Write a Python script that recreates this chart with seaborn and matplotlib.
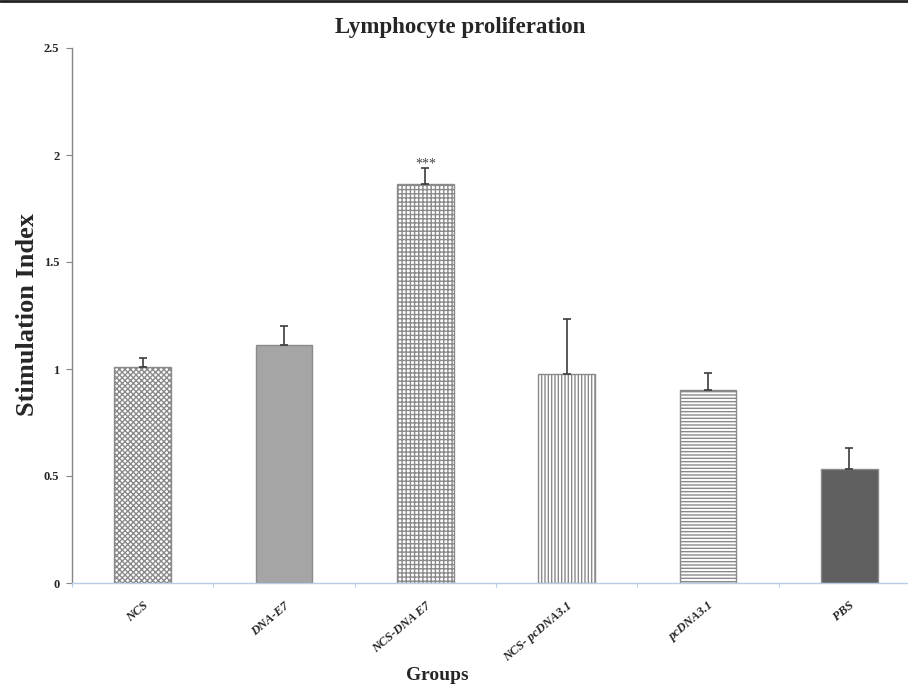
import numpy as np
import pandas as pd
import seaborn as sns
import matplotlib
matplotlib.use("Agg")
import matplotlib.pyplot as plt
from matplotlib.lines import Line2D
from matplotlib.ticker import FuncFormatter, FixedLocator

groups = ["NCS", "DNA-E7", "NCS-DNA E7", "NCS- pcDNA3.1", "pcDNA3.1", "PBS"]
means = [1.01, 1.11, 1.865, 0.978, 0.90, 0.533]
errors = [0.04, 0.09, 0.075, 0.255, 0.08, 0.10]
yticks = [0, 0.5, 1, 1.5, 2, 2.5]

face_colors = ["white", "#a5a5a5", "white", "white", "white", "#5f5f5f"]
hatches = ["xxxxxx", "", "++++", "|||||", "-----", ""]

sns.set_style("white")
plt.rcParams["font.family"] = ["Liberation Serif", "DejaVu Serif"]
plt.rcParams["hatch.linewidth"] = 1.0

df = pd.DataFrame({"group": groups, "si": means})

fig = plt.figure(figsize=(9.08, 6.85), dpi=100)
ax = fig.add_axes([72 / 908, 102 / 685, 848 / 908, 535 / 685])

sns.barplot(data=df, x="group", y="si", hue="group", palette=face_colors,
            legend=False, width=0.4, errorbar=None, ax=ax,
            edgecolor="#8a8a8a", linewidth=1.0)

for bar, h in zip(ax.patches, hatches):
    bar.set_hatch(h)
    bar.set_edgecolor("#8a8a8a")

xpos = np.arange(len(groups))
ax.errorbar(xpos, means, yerr=[np.zeros(len(errors)), errors], fmt="none",
            ecolor="#3c3c3c", elinewidth=1.2, capsize=3, capthick=1.2)

# significance mark over the NCS-DNA E7 bar
ax.text(2, means[2] + errors[2] + 0.02, "***", ha="center", va="center",
        fontsize=10, color="#444444")

ax.set_xlim(-0.5, len(groups) - 0.5)
ax.set_ylim(0, 2.5)
ax.set_yticks(yticks)
ax.yaxis.set_major_formatter(FuncFormatter(lambda v, p: f"{v:g}"))
ax.tick_params(axis="y", length=4, width=0.8, color="#868686", left=True,
               labelsize=9, pad=5)
for lab in ax.get_yticklabels():
    lab.set_fontweight("bold")

ax.set_xticks(xpos)
ax.set_xticklabels(groups, rotation=40, ha="right", rotation_mode="anchor",
                   fontsize=9, fontweight="bold", fontstyle="italic")
ax.tick_params(axis="x", which="major", length=0, pad=12)
ax.xaxis.set_minor_locator(FixedLocator(np.arange(-0.5, len(groups), 1.0)))
ax.tick_params(axis="x", which="minor", bottom=True, length=3, width=0.8,
               color="#b8cce4")

sns.despine(ax=ax, top=True, right=True)
ax.spines["left"].set_color("#868686")
ax.spines["left"].set_linewidth(1.0)
ax.spines["bottom"].set_color("#b8cce4")
ax.spines["bottom"].set_linewidth(1.0)

ax.set_xlabel("")
ax.set_ylabel("")

fig.text(28 / 908, 1 - 314 / 685, "Stimulation Index", rotation=90,
         ha="center", va="center", fontsize=19, fontweight="bold")
fig.text(460 / 908, 1 - 27 / 685, "Lymphocyte proliferation", ha="center",
         va="center", fontsize=16.5, fontweight="bold")
fig.text(437 / 908, 1 - 675 / 685, "Groups", ha="center", va="center",
         fontsize=14, fontweight="bold")

fig.add_artist(Line2D([0, 1], [1 - 1 / 685, 1 - 1 / 685], color="#222222",
                      linewidth=2, transform=fig.transFigure))

fig.savefig("out.png", dpi=100)
